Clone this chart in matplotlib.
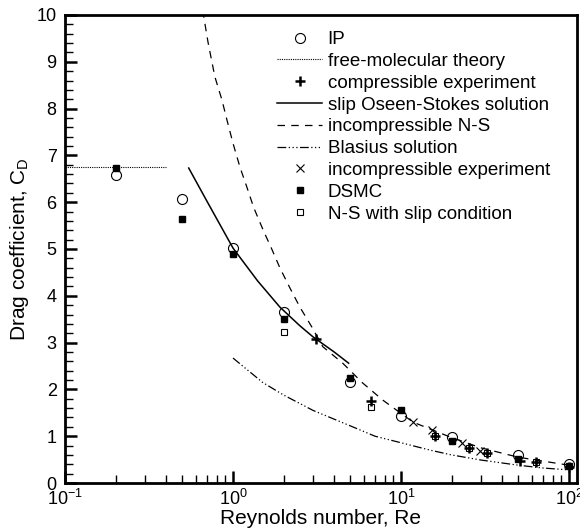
import matplotlib
matplotlib.use("Agg")
import matplotlib.pyplot as plt
from matplotlib.ticker import FixedLocator, LogLocator, NullFormatter, MultipleLocator

plt.rcParams['font.family'] = ['Liberation Sans', 'DejaVu Sans']
plt.rcParams['mathtext.fontset'] = 'custom'
plt.rcParams['mathtext.rm'] = 'Liberation Sans'
plt.rcParams['mathtext.it'] = 'Liberation Sans:italic'

# ---- data ----
ip_re = [0.2, 0.5, 1, 2, 5, 10, 20, 50, 100]
ip_cd = [6.58, 6.07, 5.02, 3.65, 2.15, 1.43, 0.98, 0.6, 0.4]

fm_re = [0.1, 0.4]
fm_cd = [6.75, 6.75]

comp_re = [3.12, 6.6, 16, 25.5, 32.5, 51, 64, 100]
comp_cd = [3.07, 1.75, 1.0, 0.75, 0.65, 0.47, 0.45, 0.35]

oseen_re = [0.545, 0.7, 1.0, 1.4, 1.9, 2.5, 3.0, 4.0, 4.88]
oseen_cd = [6.73, 6.02, 5.02, 4.32, 3.76, 3.36, 3.12, 2.8, 2.56]

ns_re = [0.66, 0.71, 0.78, 0.86, 0.92, 1.0, 1.1, 1.21, 1.33, 1.51, 1.71, 1.9,
         2.18, 2.5, 2.95, 3.43, 4.5, 5.9, 7.8, 11.8, 20, 30, 50, 100]
ns_cd = [10.1, 9.42, 8.68, 8.18, 7.76, 7.26, 6.75, 6.32, 5.88, 5.41, 4.98, 4.6,
         4.17, 3.76, 3.33, 2.91, 2.56, 2.14, 1.77, 1.3, 0.97, 0.75, 0.55, 0.38]

blas_re = [1, 1.5, 2, 3, 5, 7, 10, 15, 20, 30, 50, 70, 100]
blas_cd = [2.67, 2.15, 1.88, 1.55, 1.22, 1.0, 0.86, 0.7, 0.6, 0.49, 0.38, 0.32, 0.28]

incexp_re = [11.8, 15.4, 23, 29.5]
incexp_cd = [1.3, 1.13, 0.86, 0.68]

dsmc_re = [0.2, 0.5, 1, 2, 5, 10, 20, 50, 100]
dsmc_cd = [6.73, 5.64, 4.89, 3.5, 2.25, 1.55, 0.9, 0.51, 0.36]

nsslip_re = [2, 6.6, 16, 25.5, 32.5, 64]
nsslip_cd = [3.23, 1.62, 1.0, 0.75, 0.65, 0.45]

xtick_vals = [0.1, 1, 10, 100]
xtick_labels = ['$10^{-1}$', '$10^{0}$', '$10^{1}$', '$10^{2}$']
ytick_vals = [0, 1, 2, 3, 4, 5, 6, 7, 8, 9, 10]

W, H = 580, 529
fig = plt.figure(figsize=(W / 100, H / 100), dpi=100)
ax = fig.add_axes([65 / W, 1 - 483 / H, (577 - 65) / W, (483 - 15) / H])

ax.plot(ip_re, ip_cd, 'o', ms=7.2, mfc='none', mec='black', mew=0.8, ls='none', label='IP', zorder=3)
ax.plot(fm_re, fm_cd, color='black', lw=0.8, ls=(0, (1, 1)), label='free-molecular theory')
ax.plot(comp_re, comp_cd, '+', ms=7.5, mec='black', mew=1.8, ls='none', label='compressible experiment', zorder=4)
ax.plot(oseen_re, oseen_cd, color='black', lw=1.1, ls='-', label='slip Oseen-Stokes solution')
ax.plot(ns_re, ns_cd, color='black', lw=0.9, ls=(0, (6, 5)), label='incompressible N-S')
ax.plot(blas_re, blas_cd, color='black', lw=0.9, ls=(0, (7, 2, 1, 2, 1, 2, 1, 2)), label='Blasius solution')
ax.plot(incexp_re, incexp_cd, 'x', ms=6, mec='black', mew=0.8, ls='none', label='incompressible experiment', zorder=3)
ax.plot(dsmc_re, dsmc_cd, 's', ms=5, mfc='black', mec='black', ls='none', label='DSMC', zorder=3)
ax.plot(nsslip_re, nsslip_cd, 's', ms=5, mfc='none', mec='black', mew=0.8, ls='none', label='N-S with slip condition', zorder=3)

ax.set_xscale('log')
ax.set_xlim(0.1, 111.6)
ax.set_ylim(0, 10)

ax.xaxis.set_major_locator(FixedLocator(xtick_vals))
ax.set_xticklabels(xtick_labels)
ax.xaxis.set_minor_locator(LogLocator(base=10, subs=range(2, 10)))
ax.xaxis.set_minor_formatter(NullFormatter())
ax.yaxis.set_major_locator(FixedLocator(ytick_vals))
ax.yaxis.set_minor_locator(MultipleLocator(0.2))

ax.tick_params(which='both', direction='in', top=False, right=False, labelsize=13, colors='black')
ax.tick_params(which='major', length=8.6, width=1.8)
ax.tick_params(which='minor', length=5.5, width=1.0)
ax.tick_params(axis='x', which='major', pad=4)
ax.tick_params(axis='y', which='major', pad=6)

for s in ax.spines.values():
    s.set_linewidth(2)

ax.set_xlabel('Reynolds number, Re', fontsize=15, labelpad=0)
ax.set_ylabel('Drag coefficient, C$_\\mathrm{D}$', fontsize=15)
ax.yaxis.set_label_coords(-(65 - 20) / 512, 0.5)
ax.xaxis.set_label_coords(0.5, -(518 - 483) / 468)
ax.xaxis.label.set_va('center')
ax.yaxis.label.set_va('center')

leg = ax.legend(loc='upper left', bbox_to_anchor=((277 - 65) / 512, (483 - 31) / 468),
                frameon=False, fontsize=13.5, handlelength=2.4, handletextpad=0.3,
                labelspacing=0.25, borderpad=0, borderaxespad=0)

fig.savefig('out.png', dpi=100)
